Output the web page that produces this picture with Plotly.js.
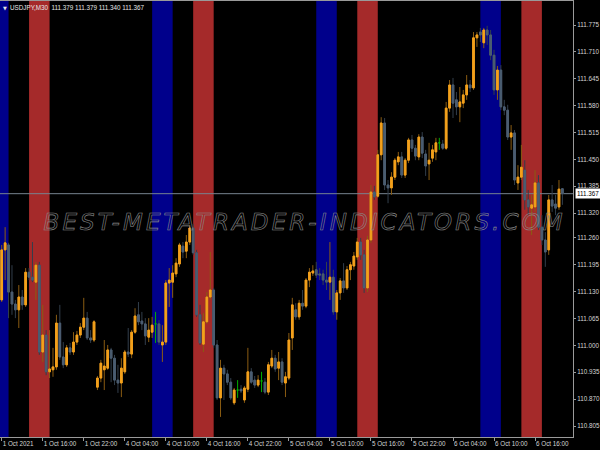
<!DOCTYPE html>
<html>
<head>
<meta charset="utf-8">
<script src="https://cdn.plot.ly/plotly-3.0.1.min.js"></script>
<style>
  html, body { margin: 0; padding: 0; background: #000; }
  #chart { width: 600px; height: 450px; }
  .annotation[data-index="0"] text {
    fill: none !important;
    stroke: #8a8a8a;
    stroke-width: 0.6px;
    letter-spacing: 3.1px;
  }
</style>
</head>
<body>
<div id="chart"></div>
<script>
// ---- chart data (USDJPY, M30) ----
const symbol = "USDJPY";
const timeframe = "M30";

const opens = [
111.110,111.231,111.243,111.129,111.100,111.086,111.117,111.098,111.177,111.165,
111.153,111.194,110.984,111.025,110.936,110.941,110.948,111.054,110.972,110.953,
110.994,110.984,111.008,111.025,111.044,111.066,111.018,111.013,110.899,110.921,
110.941,110.945,110.989,110.969,110.916,110.909,110.936,110.984,110.979,111.032,
111.074,111.059,111.052,111.020,111.032,111.052,111.052,111.001,111.008,111.151,
111.153,111.173,111.197,111.240,111.228,111.250,111.284,111.224,111.074,111.003,
111.057,111.117,111.134,111.001,110.873,110.945,110.931,110.911,110.861,110.892,
110.894,110.868,110.894,110.936,110.916,110.904,110.914,110.911,110.887,110.950,
110.969,110.945,110.960,110.909,110.921,111.018,111.086,111.069,111.102,111.095,
111.158,111.175,111.183,111.173,111.173,111.158,111.153,111.165,111.081,111.127,
111.156,111.139,111.183,111.192,111.214,111.250,111.219,111.139,111.255,111.371,
111.361,111.461,111.538,111.388,111.381,111.407,111.444,111.456,111.412,111.448,
111.497,111.477,111.456,111.504,111.463,111.439,111.453,111.468,111.490,111.487,
111.477,111.574,111.630,111.594,111.577,111.586,111.606,111.630,111.623,111.744,
111.758,111.732,111.763,111.751,111.702,111.618,111.666,111.577,111.569,111.504,
111.514,111.393,111.407,111.424,111.352,111.332,111.335,111.393,111.286,111.255,
111.231,111.352,111.342,111.335,111.379];

const highs = [
111.243,111.286,111.248,111.194,111.110,111.146,111.134,111.187,111.187,111.250,
111.202,111.202,111.098,111.037,111.037,110.994,111.074,111.098,111.008,111.001,
111.006,111.032,111.035,111.054,111.115,111.081,111.037,111.061,110.926,110.965,
111.013,111.001,110.994,110.977,110.953,110.969,110.989,111.042,111.037,111.090,
111.105,111.081,111.066,111.066,111.069,111.081,111.061,111.049,111.158,111.187,
111.194,111.211,111.248,111.250,111.267,111.291,111.294,111.231,111.098,111.078,
111.129,111.226,111.139,111.013,110.965,110.953,110.941,110.921,110.897,110.916,
110.904,110.902,110.994,110.945,110.926,110.928,110.936,110.921,110.960,110.989,
110.977,110.984,110.969,110.936,111.030,111.115,111.102,111.110,111.134,111.163,
111.187,111.194,111.202,111.187,111.183,111.202,111.250,111.183,111.134,111.163,
111.199,111.192,111.202,111.226,111.260,111.260,111.231,111.265,111.388,111.386,
111.473,111.552,111.550,111.400,111.419,111.453,111.468,111.468,111.453,111.502,
111.509,111.485,111.511,111.516,111.473,111.490,111.485,111.502,111.502,111.497,
111.589,111.642,111.647,111.613,111.625,111.618,111.654,111.642,111.758,111.758,
111.768,111.768,111.773,111.763,111.715,111.676,111.678,111.594,111.582,111.533,
111.521,111.436,111.485,111.448,111.376,111.364,111.424,111.412,111.315,111.274,
111.364,111.388,111.364,111.400,111.379];

const lows = [
111.105,111.158,111.066,111.074,111.066,111.042,111.086,111.093,111.158,111.153,
111.110,110.977,110.960,110.928,110.921,110.924,110.941,110.965,110.945,110.948,
110.977,110.977,111.001,111.018,111.037,111.013,111.006,111.008,110.892,110.911,
110.892,110.941,110.911,110.904,110.885,110.875,110.931,110.972,110.969,111.028,
111.049,111.037,111.001,111.008,111.018,111.006,111.001,110.960,111.001,111.093,
111.115,111.165,111.190,111.211,111.211,111.243,111.219,111.069,111.001,110.984,
111.052,111.110,110.994,110.868,110.827,110.868,110.904,110.868,110.856,110.873,
110.885,110.861,110.887,110.907,110.897,110.899,110.887,110.882,110.880,110.945,
110.936,110.916,110.904,110.875,110.916,110.989,111.062,111.062,111.086,111.090,
111.141,111.168,111.163,111.158,111.146,111.134,111.110,111.074,111.062,111.110,
111.127,111.134,111.158,111.183,111.207,111.207,111.127,111.129,111.248,111.352,
111.357,111.448,111.376,111.344,111.364,111.400,111.436,111.405,111.405,111.441,
111.468,111.448,111.448,111.453,111.410,111.400,111.444,111.448,111.473,111.473,
111.473,111.565,111.550,111.557,111.540,111.574,111.594,111.613,111.618,111.722,
111.734,111.719,111.727,111.690,111.606,111.594,111.569,111.557,111.497,111.473,
111.388,111.376,111.400,111.328,111.315,111.267,111.323,111.279,111.243,111.190,
111.219,111.323,111.315,111.328,111.340];

const closes = [
111.231,111.248,111.129,111.100,111.086,111.117,111.098,111.177,111.165,111.158,
111.194,110.984,111.025,110.936,110.943,110.948,111.054,110.972,110.953,110.994,
110.984,111.008,111.025,111.044,111.066,111.018,111.013,111.057,110.921,110.957,
110.950,110.989,110.969,110.916,110.909,110.945,110.984,110.979,111.032,111.071,
111.057,111.052,111.023,111.037,111.049,111.052,111.008,111.008,111.151,111.158,
111.175,111.199,111.243,111.226,111.250,111.284,111.224,111.074,111.006,111.057,
111.117,111.134,111.001,110.873,110.945,110.931,110.911,110.873,110.892,110.892,
110.890,110.897,110.936,110.911,110.904,110.916,110.914,110.887,110.953,110.969,
110.943,110.960,110.911,110.924,111.013,111.098,111.069,111.102,111.095,111.158,
111.177,111.180,111.170,111.170,111.158,111.153,111.165,111.081,111.127,111.156,
111.139,111.183,111.195,111.216,111.250,111.219,111.139,111.255,111.371,111.359,
111.461,111.538,111.388,111.381,111.407,111.448,111.456,111.412,111.448,111.497,
111.477,111.458,111.504,111.465,111.434,111.448,111.473,111.490,111.490,111.477,
111.574,111.630,111.586,111.577,111.589,111.606,111.630,111.623,111.744,111.751,
111.751,111.763,111.751,111.702,111.618,111.666,111.577,111.569,111.504,111.514,
111.400,111.407,111.431,111.352,111.335,111.340,111.393,111.286,111.255,111.226,
111.352,111.337,111.332,111.378,111.367];

// time axis labels (bar index of each label, 30-minute bars, weekend skipped)
const timeTickIndex = [0, 12, 24, 36, 48, 60, 72, 84, 96, 108, 120, 132, 144, 156];
const timeTickText = ["1 Oct 2021", "1 Oct 16:00", "1 Oct 22:00", "4 Oct 04:00", "4 Oct 10:00",
  "4 Oct 16:00", "4 Oct 22:00", "5 Oct 04:00", "5 Oct 10:00", "5 Oct 16:00", "5 Oct 22:00",
  "6 Oct 04:00", "6 Oct 10:00", "6 Oct 16:00"];

// price axis labels
const priceTickVals = [111.775, 111.710, 111.645, 111.580, 111.515, 111.450, 111.385, 111.320,
  111.260, 111.195, 111.130, 111.065, 111.000, 110.935, 110.870, 110.805];
const priceTickText = ["111.775", "111.710", "111.645", "111.580", "111.515", "111.450", "111.385",
  "111.320", "111.260", "111.195", "111.130", "111.065", "111.000", "110.935", "110.870", "110.805"];

// session highlight bands (start bar index, 6 bars = 3 hours)
const blueSessionStart = [-4, 44, 92, 140];   // 08:00-11:00
const redSessionStart = [8, 56, 104, 152];    // 14:00-17:00
const sessionBars = 6;

const watermark = "BEST-METATRADER-INDICATORS.COM";

// ---- styling ----
const bullBody = "#f4a11c", bullWick = "#8a5c12";
const bearBody = "#4b5d71", bearWick = "#323e4b";
const dojiColor = "#00b000";
const axisColor = "#9a9a9a";
const labelColor = "#d4d4d4";
const small = "Liberation Sans, Arial, sans-serif";

const barIndex = opens.map((_, i) => i);
const mainIds = barIndex.filter(i => opens[i] !== closes[i]);
const dojiIds = barIndex.filter(i => opens[i] === closes[i]);
const take = (arr, ids) => ids.map(i => arr[i]);

const wickTrace = {
  type: "candlestick", x: mainIds,
  open: take(opens, mainIds), high: take(highs, mainIds),
  low: take(lows, mainIds), close: take(closes, mainIds),
  increasing: { line: { color: bullWick, width: 1 }, fillcolor: bullWick },
  decreasing: { line: { color: bearWick, width: 1 }, fillcolor: bearWick },
  whiskerwidth: 0, hoverinfo: "skip", showlegend: false
};
const bodyTrace = {
  type: "candlestick", x: mainIds,
  open: take(opens, mainIds),
  high: mainIds.map(i => Math.max(opens[i], closes[i])),
  low: mainIds.map(i => Math.min(opens[i], closes[i])),
  close: take(closes, mainIds),
  increasing: { line: { color: bullBody, width: 1 }, fillcolor: bullBody },
  decreasing: { line: { color: bearBody, width: 1 }, fillcolor: bearBody },
  whiskerwidth: 0, hoverinfo: "skip", showlegend: false
};
const dojiTrace = {
  type: "candlestick", x: dojiIds,
  open: take(opens, dojiIds), high: take(highs, dojiIds),
  low: take(lows, dojiIds), close: take(closes, dojiIds),
  increasing: { line: { color: dojiColor, width: 1 }, fillcolor: dojiColor },
  decreasing: { line: { color: dojiColor, width: 1 }, fillcolor: dojiColor },
  whiskerwidth: 0, hoverinfo: "skip", showlegend: false
};

const last = closes.length - 1;
const fmt = v => v.toFixed(3);

const shapes = [];
blueSessionStart.forEach(s => shapes.push({
  type: "rect", xref: "x", yref: "paper", x0: s, x1: s + sessionBars, y0: 0, y1: 1,
  fillcolor: "#00008B", line: { width: 0 }, layer: "below"
}));
redSessionStart.forEach(s => shapes.push({
  type: "rect", xref: "x", yref: "paper", x0: s, x1: s + sessionBars, y0: 0, y1: 1,
  fillcolor: "#A52A2A", line: { width: 0 }, layer: "below"
}));
shapes.push({
  type: "line", xref: "paper", yref: "y", x0: 0, x1: 1, y0: closes[last], y1: closes[last],
  line: { color: "#77838f", width: 1 }, layer: "below"
});

const annotations = [
  { // watermark (index 0, outlined via CSS)
    text: watermark, xref: "paper", yref: "paper", x: 0.531, y: 0.492,
    xanchor: "center", yanchor: "middle", showarrow: false,
    font: { family: "DejaVu Sans", size: 23, style: "italic", color: "#8a8a8a" }
  },
  { // header
    text: symbol + "," + timeframe + "\u00a0\u00a0" + fmt(opens[last]) + " " + fmt(highs[last]) + " " +
          fmt(lows[last]) + " " + fmt(closes[last]),
    xref: "paper", yref: "paper", x: 0, y: 1, xanchor: "left", yanchor: "top",
    xshift: 8, yshift: -1, showarrow: false,
    font: { family: small, size: 6.3, color: "#e6e6e6" }
  },
  {
    text: "\u25BC", xref: "paper", yref: "paper", x: 0, y: 1, xanchor: "left", yanchor: "top",
    xshift: 1, yshift: -2, showarrow: false,
    font: { family: "DejaVu Sans", size: 5, color: "#e6e6e6" }
  },
  { // current price box
    text: fmt(closes[last]), xref: "paper", yref: "y", x: 1, y: closes[last],
    xanchor: "left", yanchor: "middle", xshift: 2, showarrow: false,
    bgcolor: "#ffffff", borderpad: 1,
    font: { family: small, size: 6.3, color: "#000000" }
  }
];

const layout = {
  width: 600, height: 450,
  paper_bgcolor: "#000000", plot_bgcolor: "#000000",
  margin: { l: 0, r: 27, t: 1, b: 13 },
  showlegend: false,
  xaxis: {
    type: "linear", range: [-0.5, 167.1],
    tickmode: "array", tickvals: timeTickIndex, ticktext: timeTickText,
    ticks: "outside", ticklen: 3, tickcolor: axisColor, tickwidth: 1,
    ticklabelposition: "outside right", tickangle: 0,
    tickfont: { family: small, size: 6.3, color: labelColor },
    showgrid: false, zeroline: false,
    showline: true, linecolor: axisColor, linewidth: 1, mirror: true,
    rangeslider: { visible: false }, fixedrange: true
  },
  yaxis: {
    side: "right", range: [110.7784, 111.8331],
    tickmode: "array", tickvals: priceTickVals, ticktext: priceTickText,
    ticks: "outside", ticklen: 2, tickcolor: axisColor, tickwidth: 1,
    tickfont: { family: small, size: 6.3, color: labelColor },
    showgrid: false, zeroline: false,
    showline: true, linecolor: axisColor, linewidth: 1,
    fixedrange: true
  },
  shapes: shapes,
  annotations: annotations
};

Plotly.newPlot("chart", [wickTrace, bodyTrace, dojiTrace], layout, { staticPlot: true, displayModeBar: false });
</script>
</body>
</html>
